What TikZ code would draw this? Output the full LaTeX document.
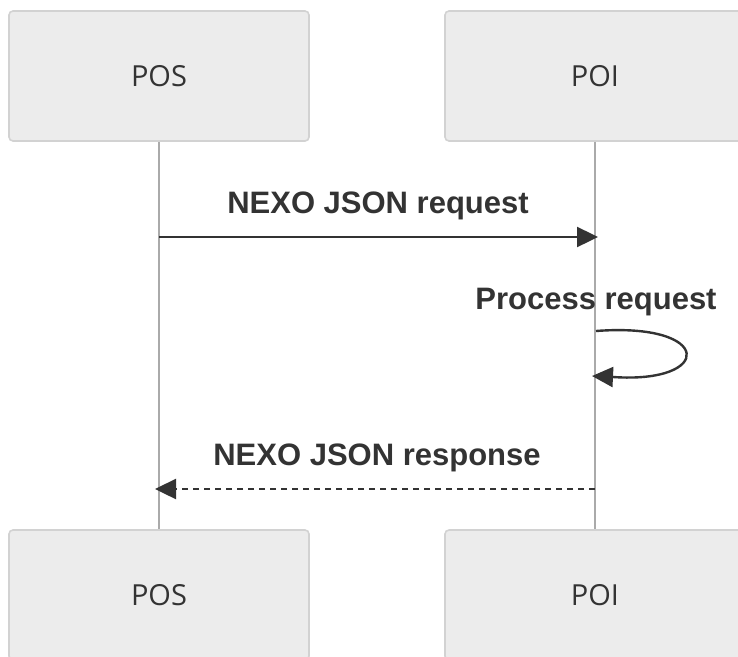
\documentclass[tikz,border=0pt]{standalone}
\usepackage{fontspec}
\setmainfont{Liberation Sans}
\newfontfamily\actorfont{Open Sans}
\usetikzlibrary{arrows.meta}
\definecolor{actfill}{HTML}{ECECEC}
\definecolor{actdraw}{HTML}{D2D2D2}
\definecolor{ink}{HTML}{333333}
\definecolor{lifec}{HTML}{AAAAAA}
\tikzset{
  actor/.style={draw=actdraw, line width=1.6pt, fill=actfill, rounded corners=4pt,
    minimum width=300pt, minimum height=130pt, inner sep=0pt,
    font=\actorfont\fontsize{29}{34}\selectfont, text=ink},
  lifeline/.style={draw=lifec, line width=1.3pt},
  msg/.style={draw=ink, line width=2.4pt, -{Triangle[length=21pt,width=20pt]}},
  msgdash/.style={msg, dash pattern=on 6pt off 5pt},
  msglabel/.style={font=\bfseries\fontsize{31}{35}\selectfont, text=ink, anchor=base, inner sep=0pt}
}
\begin{document}
\begin{tikzpicture}[x=1pt,y=-1pt]
\useasboundingbox (0,0) rectangle (738,656);
\clip (0,0) rectangle (738,656);
\node[actor] (posT) at (159,76) {POS};
\node[actor] (poiT) at (595,76) {POI};
\node[actor] (posB) at (159,595) {POS};
\node[actor] (poiB) at (595,595) {POI};
\draw[lifeline] (posT.south) -- (posB.north);
\draw[lifeline] (poiT.south) -- (poiB.north);
% request
\coordinate (rqS) at (159,237);
\coordinate (rqE) at (598,237);
\draw[msg] (rqS) -- (rqE);
\node[msglabel] (rqL) at (378,213) {NEXO JSON request};
% self loop
\coordinate (lpS) at (596,331);
\coordinate (lpE) at (592,376);
\draw[msg] (lpS) .. controls (714,322) and (714,384) .. (613,377) -- (lpE);
\node[msglabel] (lpL) at (596,309) {Process request};
% response
\coordinate (rsS) at (595,489);
\coordinate (rsE) at (155,489);
\draw[msgdash] (rsS) -- (rsE);
\node[msglabel] (rsL) at (377,465) {NEXO JSON response};
\end{tikzpicture}
\end{document}
